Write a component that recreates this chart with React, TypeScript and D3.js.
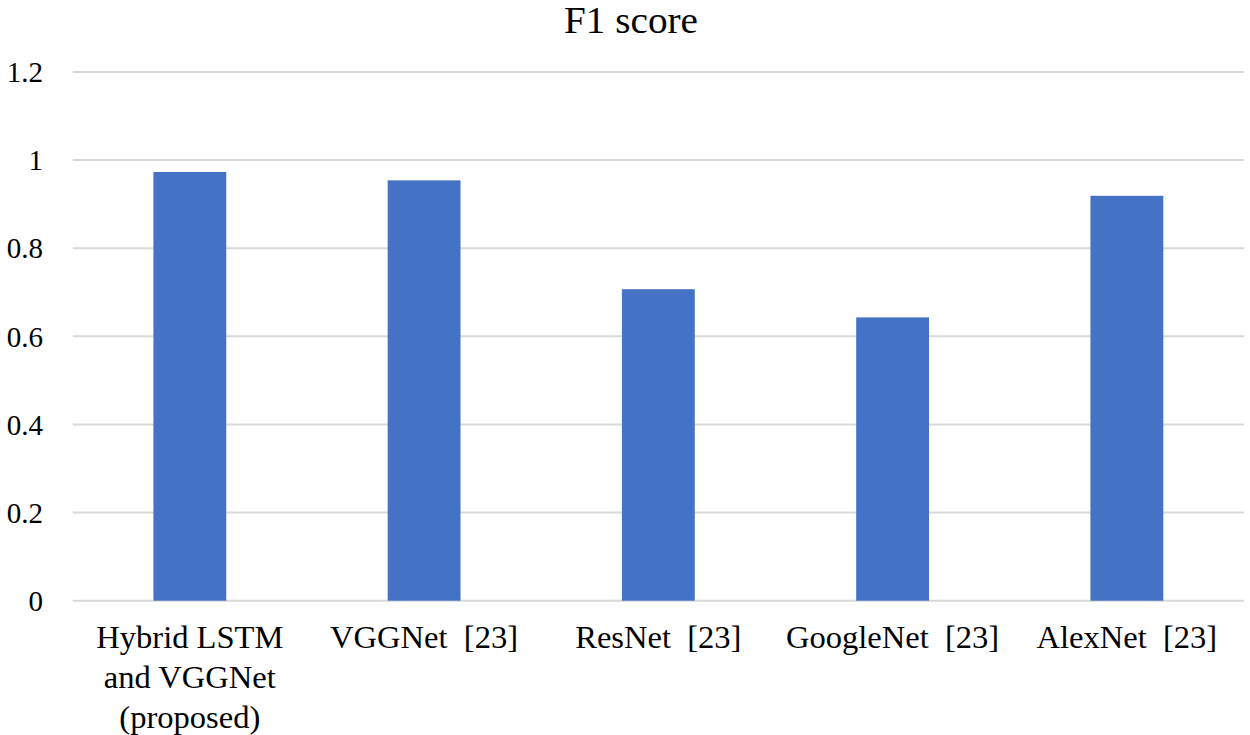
import React from "react";
import * as d3 from "d3";

const categories: string[][] = [
  ["Hybrid LSTM", "and VGGNet", "(proposed)"],
  ["VGGNet  [23]"],
  ["ResNet  [23]"],
  ["GoogleNet  [23]"],
  ["AlexNet  [23]"],
];
const f1Values: number[] = [0.973, 0.954, 0.707, 0.643, 0.919];
const yTicks: number[] = [0, 0.2, 0.4, 0.6, 0.8, 1, 1.2];
const title = "F1 score";

export default function App() {
  const width = 1250;
  const height = 735;
  const left = 72.7;
  const right = 1244;
  const top = 72;
  const bottom = 600.7;
  const font = "'Liberation Serif', 'Times New Roman', Times, serif";

  const keys = categories.map((_, i) => String(i));
  const x = d3
    .scaleBand<string>()
    .domain(keys)
    .range([left, right])
    .paddingInner(0.689)
    .paddingOuter(0.3445);
  const y = d3.scaleLinear().domain([0, 1.2]).range([bottom, top]);

  return (
    <svg
      width={width}
      height={height}
      style={{ position: "absolute", left: 0, top: 0, background: "#fff" }}
    >
      <rect x={0} y={0} width={width} height={height} fill="#fff" />
      <text
        x={631}
        y={33}
        textAnchor="middle"
        fontFamily={font}
        fontSize={37}
        fill="#000"
        transform="translate(631,0) scale(1.06,1) translate(-631,0)"
      >
        {title}
      </text>
      {yTicks.map((t) => (
        <g key={t}>
          <line
            x1={left}
            x2={right}
            y1={y(t)}
            y2={y(t)}
            stroke="#d9d9d9"
            strokeWidth={2}
          />
          <text
            x={43}
            y={y(t)}
            dy="0.35em"
            textAnchor="end"
            fontFamily={font}
            fontSize={29}
            fill="#000"
          >
            {d3.format("~g")(t)}
          </text>
        </g>
      ))}
      {f1Values.map((v, i) => (
        <rect
          key={i}
          x={x(String(i))}
          y={y(v)}
          width={x.bandwidth()}
          height={y(0) - y(v)}
          fill="#4472C4"
        />
      ))}
      {categories.map((lines, i) => {
        const cx = (x(String(i)) as number) + x.bandwidth() / 2;
        return (
          <text
            key={i}
            x={cx}
            y={648}
            textAnchor="middle"
            fontFamily={font}
            fontSize={31}
            fill="#000"
            style={{ whiteSpace: "pre" }}
            transform={`translate(${cx},0) scale(1.05,1) translate(${-cx},0)`}
          >
            {lines.map((l, j) => (
              <tspan key={j} x={cx} dy={j === 0 ? 0 : 40}>
                {l}
              </tspan>
            ))}
          </text>
        );
      })}
    </svg>
  );
}
